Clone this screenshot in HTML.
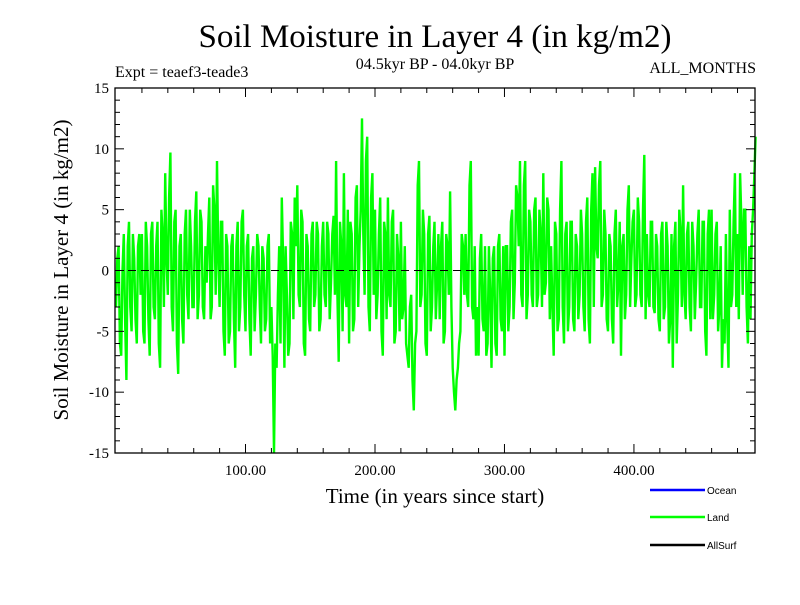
<!DOCTYPE html>
<html><head><meta charset="utf-8"><style>
body{margin:0;background:#fff;}
svg text{font-family:"Liberation Serif",serif;fill:#000;}
</style></head><body>
<svg id="chart" width="800" height="600" xmlns="http://www.w3.org/2000/svg">
<rect width="800" height="600" fill="#fff"/>
<text x="435" y="47" font-size="33" text-anchor="middle">Soil Moisture in Layer 4 (in kg/m2)</text>
<text x="115" y="77" font-size="16">Expt = teaef3-teade3</text>
<text x="435" y="69" font-size="16" text-anchor="middle">04.5kyr BP - 04.0kyr BP</text>
<text x="756" y="73" font-size="16" text-anchor="end">ALL_MONTHS</text>
<text transform="translate(68,270) rotate(-90)" font-size="21" text-anchor="middle">Soil Moisture in Layer 4 (in kg/m2)</text>
<text x="435" y="503" font-size="21" text-anchor="middle">Time (in years since start)</text>
<g id="plot"></g>
<g>
<line x1="650" y1="490" x2="705" y2="490" stroke="#0000ff" stroke-width="2.5"/>
<text x="707" y="494" font-size="10" style="font-family:'Liberation Sans',sans-serif">Ocean</text>
<line x1="650" y1="517" x2="705" y2="517" stroke="#00ff00" stroke-width="2.5"/>
<text x="707" y="521" font-size="10" style="font-family:'Liberation Sans',sans-serif">Land</text>
<line x1="650" y1="545" x2="705" y2="545" stroke="#000" stroke-width="2.5"/>
<text x="707" y="549" font-size="10" style="font-family:'Liberation Sans',sans-serif">AllSurf</text>
</g>
</svg>
<script>
const yearStep = 2;
// values at even years
const landEven = [
-3,2,-7,3,-9, 4,-5,1,-6,3, 3,-6,2,-7,4, -4,4,-8,3,8, -2,9.7,-5,5,-8.5,
3,-6,5,-4,2, -3,6.5,-2,4,-4, -1,6,-3,5,9, -3,4,-7,2,-5, 3,-8,4,-3,5,
-5,3,-7,2,-2, 2,-6,1,-4,3, -3,-15,-8,2,6, -8,-2,-6,3,6, 7,-3,4,-7,2,
-5,4,-2,3,-4, 4,-3,3,-1,4.5, 9,-7.5,2,8,-3, -6,3,-4,7,2, 12.5,-2,11,-5,8,
5,-2,6,-7,3, 6,-3,5,-5,1, 4,-3,-6,-8,-2, -11.5,-5,9,-2,3, -7,4.5,-3,4,-1,
-4,4,-5,2,6.5, -8,-11.5,-8,-5,2, 3,-3,9,-4,-7, -7,3,-5,-7,2, -8,2,-7,3,-5,
-7,2,-3,5,-1, 6,9,-3,9,-2, 4,-3,6,-2,3, 8,-1,5,2,-7, 3,-4,9,-6,4,
-3,4,-5,2,-2, 3,-5,6,-6,8, 8.5,1,9,-2,3, -5,2,-6,5,-1, -7,3,-2,7,1,
5,-2,4,-3,9.5, 3,-3,4,-3.5,2, -5,4,-3,2,-4, -8,4,-2,3,7, -4,4,-5,2,-1,
5,-3,4,-7,5, 5,-2,4,-3,-8, -6,-4,5,-2,8, 3,8,-2,5,-6, -4,5,11
];
// values at odd years
const landOdd = [
1,-6,0,-4,2, -3,3,-4,2,-2, -5,4,-4,3,-3, 2,-6,5,-3,1, 6,-3,4,-6,2,
-4,3,-2,5,-3, 4,-4,5,-3,2, 3,-4,7,-2,1, 4,-5,3,-6,2, -4,2,-5,4,-2,
2,-4,1,-5,3, -3,2,-5,2,-6, -7,-6,-2,-6,1, 2,-7,4,-4,2, -2,5,-6,3,-4,
3,-3,4,-5,2, -2,4,-4,3,-2, -2,4,-5,-2,5, 4,-5,6,-3,5, 3,9,-3,6,-2,
-4,3,-5,4,-4, -2,4,-6,3,-5, -4,2,-7,-3,-9, -6,7,-3,5,-6, 3,-5,2,-4,3,
2,-6,3,-2,-3, -10,-9,-6,3,-2, -2,7,-3,2,-3, 1,-4,2,-6,-2, 1,-6,2,-4,2,
2,-5,4,-4,7, 2,-2,7,-4,5, -2,5,-3,5,-3, -2,6,-4,-3,4, -5,5,-3,3,-5,
4,-4,3,-4,5, -3,4,-4,5,-3, 2,7,-3,5,-4, 3,-4,3,-3,4, 2,-4,5,-3,4,
-3,6,-2,5,-4, -2,4,-3,3,-4, 3,-4,4,-6,3, 2,-6,5,-3,-2, 3,-3,4,-4,3,
-3,4,-5,3,-4, -4,3,-5,2,-4, 3,-8,-3,4,-3, -4,4,5,-3,2, 3,8
];
const xTickValues = [100,200,300,400];
const xTickLabels = ["100.00","200.00","300.00","400.00"];
const yTickValues = [-15,-10,-5,0,5,10,15];
const yTickLabels = ["-15","-10","-5","0","5","10","15"];

const L=115,R=755,T=88,B=453, xMin=-0.8, xMax=493.5, yMin=-15, yMax=15;
const sx=v=>L+(v-xMin)/(xMax-xMin)*(R-L);
const sy=v=>B-(v-yMin)/(yMax-yMin)*(B-T);
const NS="http://www.w3.org/2000/svg";
const g=document.getElementById('plot');
function mk(t,a){const e=document.createElementNS(NS,t);for(const k in a)e.setAttribute(k,a[k]);g.appendChild(e);return e;}

const series=[];
landEven.forEach((v,i)=>{
  series.push([i*yearStep,v]);
  if(i<landOdd.length) series.push([i*yearStep+1,landOdd[i]]);
});
let pts=series.map(p=>sx(p[0]).toFixed(1)+','+sy(p[1]).toFixed(1)).join(' ');
const line=mk('polyline',{points:pts,fill:'none',stroke:'#00ff00','stroke-width':2.4,'stroke-linejoin':'miter','stroke-miterlimit':2});



const zero=mk('line',{x1:L,x2:R,y1:sy(0),y2:sy(0),stroke:'#000','stroke-width':1,'stroke-dasharray':'8,5'});



const frame=mk('rect',{x:L,y:T,width:R-L,height:B-T,fill:'none',stroke:'#000','stroke-width':1.3});



for(let y=yMin;y<=yMax;y++){
  const major=(y%5===0), len=major?9:5;
  const t1=mk('line',{x1:L,x2:L+len,y1:sy(y),y2:sy(y),stroke:'#000','stroke-width':1});
  
  
  const t2=mk('line',{x1:R,x2:R-len,y1:sy(y),y2:sy(y),stroke:'#000','stroke-width':1});
  
  
}
for(let x=20;x<xMax;x+=20){
  const major=(x%100===0), len=major?9:5;
  const t1=mk('line',{x1:sx(x),x2:sx(x),y1:B,y2:B-len,stroke:'#000','stroke-width':1});
  
  
  const t2=mk('line',{x1:sx(x),x2:sx(x),y1:T,y2:T+len,stroke:'#000','stroke-width':1});
  
  
}
yTickValues.forEach((v,i)=>{
  const t=mk('text',{x:L-6,y:sy(v)+5,'font-size':15,'text-anchor':'end'});
  t.textContent=yTickLabels[i];
  
  
});
xTickValues.forEach((v,i)=>{
  const t=mk('text',{x:sx(v),y:B+22,'font-size':15,'text-anchor':'middle'});
  t.textContent=xTickLabels[i];
  
  
});
</script>
</body></html>
